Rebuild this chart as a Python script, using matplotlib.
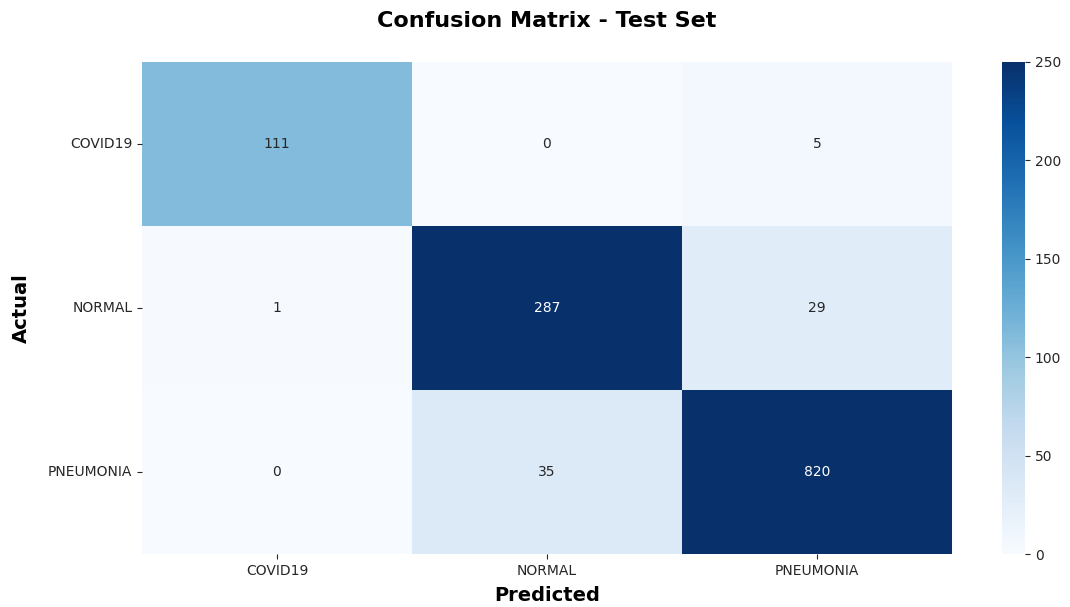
import numpy as np
import matplotlib
matplotlib.use("Agg")
import matplotlib.pyplot as plt
import seaborn as sns

classes = ["COVID19", "NORMAL", "PNEUMONIA"]
cm = np.array([
    [111, 0, 5],
    [1, 287, 29],
    [0, 35, 820],
])

fig = plt.figure(figsize=(10.7, 6.07), dpi=100)
ax = fig.add_axes([0.1327, 0.087, 0.757, 0.811])
cax = fig.add_axes([0.9365, 0.087, 0.0215, 0.811])

sns.heatmap(cm, annot=True, fmt="d", cmap="Blues", vmin=0, vmax=250,
            xticklabels=classes, yticklabels=classes, ax=ax, cbar_ax=cax,
            annot_kws={"fontsize": 10})
ax.set_yticklabels(classes, rotation=0)
ax.set_title("Confusion Matrix - Test Set", fontsize=16, fontweight="bold", pad=25)
ax.set_xlabel("Predicted", fontsize=14, fontweight="bold", labelpad=6)
ax.set_ylabel("Actual", fontsize=14, fontweight="bold", labelpad=12)
ax.tick_params(labelsize=10, colors="#262626")
cax.tick_params(labelsize=10, colors="#262626")

plt.savefig("out.png", dpi=100)
plt.close(fig)
